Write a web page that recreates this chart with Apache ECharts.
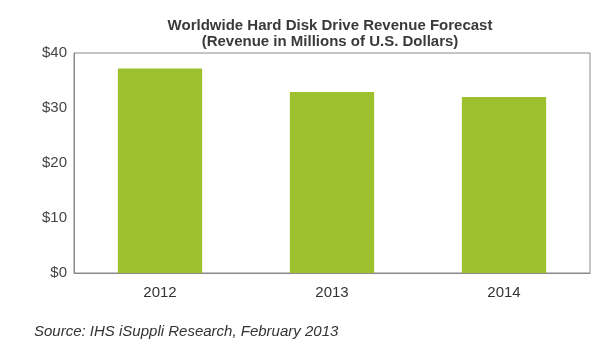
<!DOCTYPE html>
<html>
<head>
<meta charset="utf-8">
<script src="https://cdn.jsdelivr.net/npm/echarts@6/dist/echarts.min.js"></script>
<style>html,body{margin:0;padding:0;background:#fff}#c{width:600px;height:350px}</style>
</head>
<body>
<div id="c"></div>
<script>
var categories = ['2012', '2013', '2014'];
var revenue = [37.2, 32.9, 32.0];
var yTicks = [0, 10, 20, 30, 40];

var chart = echarts.init(document.getElementById('c'), null, {renderer: 'canvas'});
chart.setOption({
  backgroundColor: '#ffffff',
  animation: false,
  title: [{
    text: 'Worldwide Hard Disk Drive Revenue Forecast\n(Revenue in Millions of U.S. Dollars)',
    left: 325, top: 13, textAlign: 'center',
    textStyle: {fontFamily: 'Liberation Sans', fontSize: 15, fontWeight: 'bold', color: '#3a3a3a', lineHeight: 16}
  }, {
    text: 'Source: IHS iSuppli Research, February 2013',
    left: 29, top: 319,
    textStyle: {fontFamily: 'Liberation Sans', fontSize: 15, fontWeight: 'normal', fontStyle: 'italic', color: '#333'}
  }],
  grid: {left: 74, right: 10, top: 53, bottom: 77, show: true, borderColor: '#8a8a8a', borderWidth: 1, backgroundColor: 'transparent'},
  xAxis: {
    type: 'category', data: categories,
    axisLine: {lineStyle: {color: '#8a8a8a'}},
    axisTick: {show: false},
    axisLabel: {fontFamily: 'Liberation Sans', fontSize: 15, color: '#333', margin: 12}
  },
  yAxis: {
    type: 'value', min: yTicks[0], max: yTicks[yTicks.length - 1], interval: 10,
    axisLine: {show: true, lineStyle: {color: '#8a8a8a'}},
    axisTick: {show: false},
    splitLine: {show: false},
    axisLabel: {fontFamily: 'Liberation Sans', fontSize: 15, color: '#444', margin: 7, formatter: function (v) { return '$' + v; }}
  },
  series: [{
    type: 'bar', data: revenue, barWidth: '49%',
    itemStyle: {color: '#9dc02e'}
  }]
});
</script>
</body>
</html>
